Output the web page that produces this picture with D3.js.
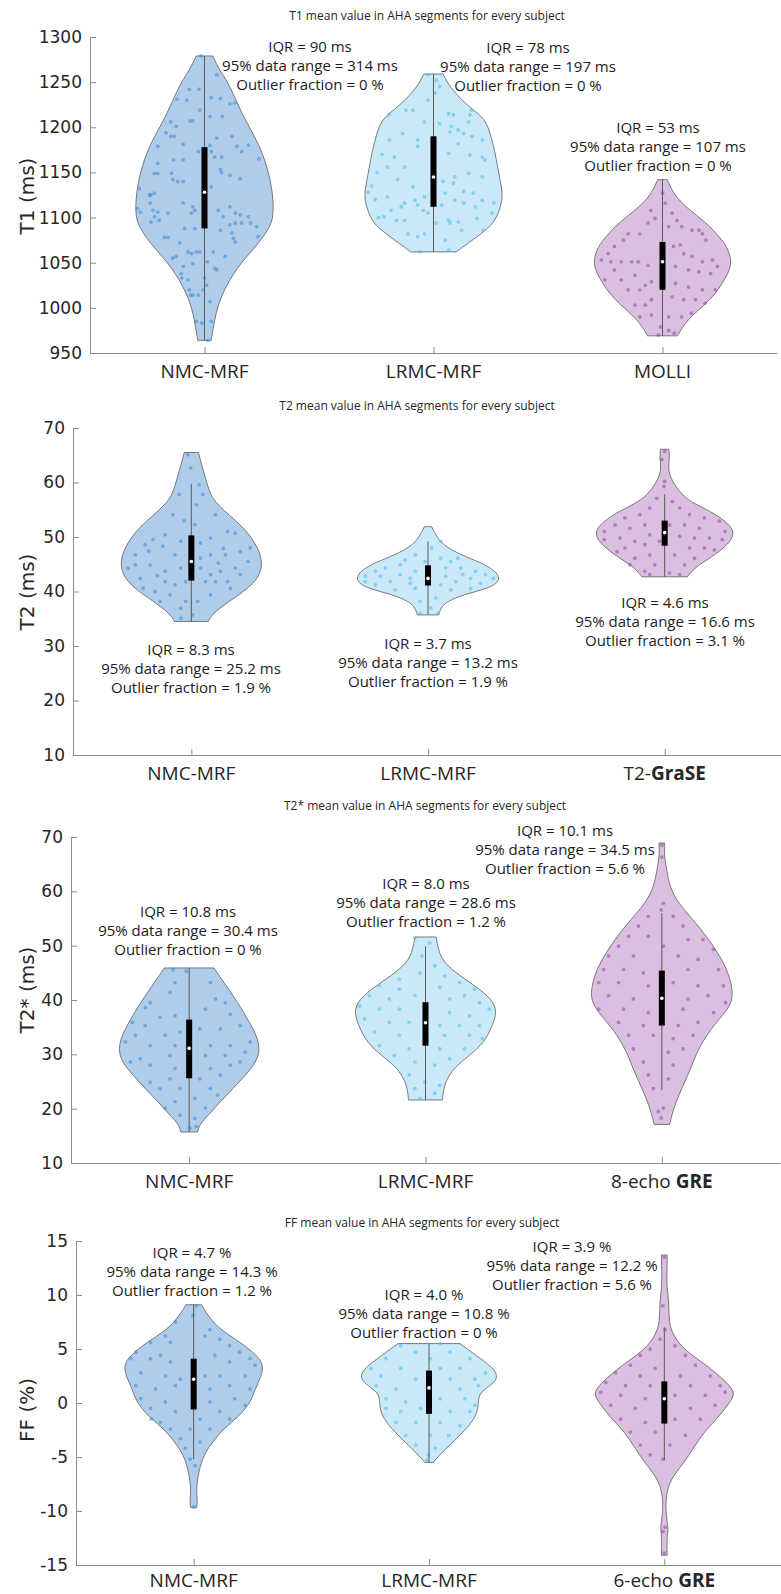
<!DOCTYPE html>
<html>
<head>
<meta charset="utf-8">
<script src="https://cdn.jsdelivr.net/npm/d3@7"></script>
<style>
html, body { margin: 0; padding: 0; background: #fff; }
svg { display: block; }
</style>
</head>
<body>
<script>
// ---------------------------------------------------------------
// T1 (ms)
// ---------------------------------------------------------------
const t1Title = "T1 mean value in AHA segments for every subject";
const t1Categories = [["NMC-MRF", ""], ["LRMC-MRF", ""], ["MOLLI", ""]];
const t1Ticks = [950, 1000, 1050, 1100, 1150, 1200, 1250, 1300];
// [whisker low, q1, median, q3, whisker high]
const t1Box = [[964, 1088, 1128, 1178, 1279], [1062, 1112, 1145, 1190, 1259], [969, 1020, 1051, 1073, 1142]];
const t1Range95 = [314, 197, 107];
const t1Outlier = [0, 0, 0];
// kernel density profile: [value, relative density]
const t1Density = [
  [[1279,0.12],[1263,0.22],[1250,0.34],[1230,0.46],[1208,0.59],[1186,0.76],[1164,0.88],[1142,0.96],[1120,1.0],[1108,1.0],[1097,0.99],[1086,0.92],[1075,0.82],[1064,0.70],[1053,0.57],[1042,0.46],[1031,0.37],[1020,0.29],[1009,0.23],[998,0.18],[987,0.15],[975,0.12],[964,0.10]],
  [[1259,0.14],[1247,0.22],[1236,0.34],[1223,0.51],[1212,0.71],[1200,0.80],[1186,0.85],[1171,0.90],[1149,0.95],[1130,1.0],[1120,1.0],[1108,0.96],[1094,0.88],[1083,0.71],[1072,0.51],[1062,0.33]],
  [[1142,0.07],[1130,0.14],[1120,0.23],[1108,0.40],[1097,0.59],[1086,0.74],[1075,0.87],[1064,0.96],[1053,1.0],[1042,0.98],[1031,0.90],[1020,0.81],[1009,0.69],[998,0.53],[987,0.37],[975,0.26],[969,0.22]]
];
// segment values: [jitter (fraction of violin half-width), value]
const t1Points = [
  [[-0.05,1279],[0.18,1258],[-0.22,1242],[-0.08,1242],[-0.40,1231],[-0.26,1230],[0.23,1232],[0.10,1233],[0.37,1226],[0.44,1227],[-0.07,1219],[0.08,1212],[-0.21,1207],[-0.17,1207],[0.26,1212],[-0.49,1206],[-0.41,1201],[-0.56,1194],[-0.44,1190],[-0.49,1190],[0.18,1188],[0.40,1190],[0.08,1180],[0.47,1179],[0.64,1180],[-0.31,1181],[0.54,1173],[-0.68,1179],[-0.09,1173],[0.10,1173],[-0.68,1160],[-0.45,1164],[-0.31,1164],[0.25,1167],[0.15,1167],[0.79,1165],[-0.73,1149],[-0.68,1149],[0.23,1153],[0.25,1150],[-0.48,1149],[-0.46,1142],[-0.39,1140],[-0.31,1140],[0.37,1147],[0.52,1143],[-0.95,1132],[-0.78,1125],[-0.73,1127],[0.10,1134],
   [-0.80,1125],[-0.98,1110],[-0.93,1106],[-0.79,1116],[-0.75,1108],[-0.68,1106],[-0.73,1101],[-0.78,1095],[-0.66,1097],[-0.53,1105],[-0.31,1116],[-0.17,1112],[-0.14,1108],[-0.19,1105],[0.20,1108],[0.27,1101],[0.37,1112],[0.45,1105],[0.52,1103],[0.64,1101],[0.67,1094],[0.76,1090],[0.78,1079],[0.54,1094],[0.45,1094],[0.37,1092],[0.40,1083],[0.42,1077],[0.45,1073],[0.23,1086],[-0.29,1088],[-0.14,1088],[-0.36,1072],[-0.58,1078],[-0.53,1078],[-0.46,1055],[-0.41,1057],[-0.24,1062],[-0.12,1062],[-0.07,1062],[0.13,1062],[0.18,1042],[0.15,1044],[0.04,1051],[-0.17,1049],[-0.31,1046],[-0.34,1038],[-0.33,1033],[-0.24,1031],[0.0,1033],[0.03,1025],[-0.20,1014],[-0.17,1014],[-0.09,1014],[-0.02,1020],[-0.22,1020],[0.08,1007],[-0.12,985],[-0.04,983],[0.10,985],[0.05,964],[0.30,1057],[-0.19,1060]],
  [[-0.08,1258],[0.04,1252],[0.09,1245],[0.02,1238],[-0.08,1230],[-0.30,1219],[0.22,1215],[0.29,1214],[0.53,1214],[0.55,1219],[-0.40,1219],[-0.65,1214],[-0.13,1206],[0.09,1204],[0.51,1206],[0.26,1201],[0.36,1197],[0.24,1195],[0.44,1193],[0.56,1190],[0.71,1186],[-0.45,1193],[-0.64,1186],[-0.23,1186],[0.36,1182],[0.22,1171],[0.53,1169],[0.71,1167],[0.75,1164],[-0.57,1167],[-0.42,1156],[-0.23,1179],[0.51,1149],[0.31,1145],[0.71,1145],[0.14,1140],[0.29,1138],[0.44,1129],[0.17,1127],[-0.52,1142],[-0.67,1156],[-0.30,1134],[-0.13,1123],
   [-0.42,1116],[-0.47,1112],[-0.23,1114],[-0.27,1119],[-0.15,1108],[0.12,1114],[0.31,1119],[0.44,1116],[0.61,1112],[0.71,1119],[0.88,1116],[0.22,1097],[0.24,1094],[0.36,1095],[0.04,1094],[-0.08,1105],[-0.54,1097],[-0.42,1097],[-0.37,1082],[-0.13,1082],[-0.23,1079],[0.63,1099],[0.72,1086],[0.41,1086],[0.17,1075],[0.22,1064],[-0.20,1062],[-0.62,1108],[-0.72,1101],[0.85,1105],[-0.67,1123],[0.58,1127],
   [-0.85,1120],[-0.9,1135],[-0.8,1100],[-0.82,1150],[-0.75,1170],[-0.95,1128]],
  [[-0.17,1108],[-0.11,1099],[-0.21,1094],[-0.33,1082],[0.14,1105],[0.21,1097],[0.09,1090],[0.28,1090],[0.43,1086],[0.53,1086],[0.58,1082],[0.63,1075],[-0.50,1082],[-0.57,1075],[-0.70,1068],[-0.79,1060],[-0.89,1053],[-0.75,1051],[-0.60,1051],[-0.45,1051],[-0.35,1051],[-0.21,1047],[0.16,1068],[0.26,1070],[0.31,1060],[0.43,1057],[0.58,1051],[0.73,1053],[0.80,1046],[0.19,1046],[0.38,1042],[0.53,1040],[0.70,1038],[-0.70,1042],[-0.84,1031],[-0.60,1031],[-0.40,1036],[-0.25,1025],[-0.16,1029],[-0.50,1020],[-0.33,1020],[0.19,1027],[0.38,1023],[0.58,1020],[0.77,1020],[0.14,1012],[0.31,1009],[0.48,1009],[0.62,1005],[-0.40,1003],[-0.25,1003],[-0.16,1009],[-0.33,990],[-0.16,992],[0.09,990],[0.28,990],[0.42,994],[-0.03,979],[0.09,975],[0.17,972],[-0.06,970],[0.0,1127],[0.04,1116]]
];

// ---------------------------------------------------------------
// T2 (ms)
// ---------------------------------------------------------------
const t2Title = "T2 mean value in AHA segments for every subject";
const t2Categories = [["NMC-MRF", ""], ["LRMC-MRF", ""], ["T2-", "GraSE"]];
const t2Ticks = [10, 20, 30, 40, 50, 60, 70];
const t2Box = [[34.5, 42.0, 45.5, 50.3, 59.7], [35.7, 41.1, 42.4, 44.8, 49.2], [42.7, 48.4, 50.8, 53.0, 57.8]];
const t2Range95 = [25.2, 13.2, 16.6];
const t2Outlier = [1.9, 1.9, 3.1];
const t2Density = [
  [[65.5,0.10],[63.5,0.14],[60.8,0.20],[58.5,0.25],[56.5,0.32],[53.5,0.58],[51.0,0.79],[48.0,0.94],[45.5,1.0],[43.0,0.97],[40.6,0.81],[38.2,0.53],[35.7,0.28],[34.5,0.24]],
  [[51.9,0.05],[50.4,0.11],[48.6,0.20],[46.7,0.46],[44.9,0.83],[43.1,1.0],[41.8,1.0],[40.6,0.86],[39.4,0.49],[38.2,0.27],[37.0,0.18],[35.7,0.15]],
  [[66.1,0.06],[64.5,0.07],[62.7,0.05],[60.8,0.08],[58.4,0.20],[56.5,0.35],[54.7,0.65],[52.9,0.86],[51.0,0.99],[49.2,0.93],[47.3,0.77],[45.5,0.56],[44.3,0.42],[42.7,0.32]]
];
const t2Points = [
  [[0.11,59.6],[0.16,57.8],[0.07,55.9],[-0.17,57.8],[-0.26,54.1],[0.34,54.1],[0.51,51.0],[0.62,50.7],[-0.37,50.4],[-0.54,49.5],[-0.65,48.6],[-0.79,46.7],[0.27,49.8],[0.13,48.9],[-0.15,49.2],[-0.40,48.3],[-0.23,46.7],[0.13,46.1],[0.27,46.7],[0.48,46.7],[0.69,47.3],[0.83,48.0],[0.80,45.5],[0.62,44.3],[0.41,43.7],[0.27,43.1],[0.13,44.3],[-0.15,44.3],[-0.37,43.7],[-0.58,44.9],[-0.79,44.9],[-0.89,44.3],[-0.72,42.4],[-0.37,41.8],[-0.23,41.2],[-0.08,41.8],[0.20,41.8],[0.34,41.8],[0.51,41.8],[0.69,43.1],[0.55,40.6],[0.27,39.4],[0.09,38.2],[-0.08,38.2],[-0.30,39.4],[-0.51,40.0],[-0.68,40.6],[-0.15,36.9],[0.02,35.7],[-0.15,35.1],[-0.44,38.2],[-0.05,65.1],[-0.01,62.7],[0.45,47.9],[-0.60,47.4],[0.05,52.3],[-0.10,53.0],[0.38,45.2],[-0.48,42.9]],
  [[0.18,49.2],[0.05,48.0],[-0.18,46.7],[0.18,46.1],[0.32,45.5],[-0.39,44.9],[-0.60,44.3],[-0.74,43.7],[-0.88,42.8],[-0.39,43.1],[-0.18,43.7],[0.25,44.3],[0.46,44.3],[0.67,43.7],[0.81,43.1],[0.92,42.4],[0.60,42.4],[0.39,41.8],[0.18,41.2],[-0.25,41.5],[-0.53,41.8],[-0.74,41.2],[-0.88,41.8],[-0.46,40.3],[-0.18,40.6],[0.32,40.3],[0.60,40.6],[0.74,41.5],[0.11,38.8],[-0.11,38.2],[0.04,37.0],[-0.11,36.0],[0.14,36.0],[-0.25,42.4],[-0.67,42.8],[0.25,42.8],[-0.04,45.5],[0.42,46.1],[-0.32,45.8],[0.49,43.1]],
  [[0.0,65.7],[-0.04,64.2],[0.0,60.2],[-0.01,59.3],[-0.11,57.1],[0.11,56.5],[-0.21,55.3],[0.21,55.3],[-0.35,54.1],[0.35,54.1],[-0.56,53.5],[0.56,53.5],[-0.70,52.2],[0.77,52.9],[-0.85,51.0],[0.85,51.0],[-0.49,51.6],[-0.28,52.2],[0.28,52.2],[0.49,51.6],[-0.21,50.4],[0.21,50.1],[0.42,49.8],[0.63,49.8],[-0.63,49.8],[-0.42,49.2],[-0.85,49.5],[0.81,49.5],[-0.28,48.6],[-0.56,48.0],[0.35,48.0],[0.56,48.0],[-0.67,47.3],[0.70,47.6],[-0.21,46.7],[0.14,46.7],[-0.42,46.1],[0.42,46.1],[-0.49,44.9],[-0.14,44.9],[0.28,44.9],[-0.28,43.7],[0.07,43.4],[0.21,43.1],[-0.21,43.1],[-0.07,49.2],[0.07,52.2]]
];

// ---------------------------------------------------------------
// T2* (ms)
// ---------------------------------------------------------------
const t2sTitle = "T2* mean value in AHA segments for every subject";
const t2sCategories = [["NMC-MRF", ""], ["LRMC-MRF", ""], ["8-echo ", "GRE"]];
const t2sTicks = [10, 20, 30, 40, 50, 60, 70];
const t2sBox = [[15.7, 25.6, 31.1, 36.4, 45.9], [21.6, 31.6, 35.8, 39.6, 49.9], [23.4, 35.3, 40.3, 45.4, 56.0]];
const t2sRange95 = [30.4, 28.6, 34.5];
const t2sOutlier = [0, 1.2, 5.6];
const t2sDensity = [
  [[45.9,0.35],[43.2,0.49],[39.5,0.69],[35.9,0.85],[33.5,0.95],[31.0,1.0],[28.6,0.95],[26.1,0.79],[23.7,0.62],[21.3,0.44],[18.8,0.27],[17.0,0.14],[15.7,0.12]],
  [[51.6,0.15],[49.3,0.18],[46.9,0.25],[44.4,0.49],[42.0,0.77],[39.5,0.98],[37.1,1.0],[34.7,0.92],[32.2,0.83],[29.8,0.62],[27.4,0.39],[24.9,0.28],[23.1,0.25],[21.6,0.24]],
  [[68.9,0.04],[66.3,0.035],[63.9,0.07],[60.9,0.11],[57.8,0.23],[54.8,0.44],[51.7,0.63],[48.7,0.79],[45.6,0.92],[42.6,0.99],[40.2,1.0],[38.3,0.93],[35.9,0.77],[33.5,0.63],[30.4,0.49],[27.4,0.41],[24.3,0.30],[21.3,0.20],[18.8,0.14],[17.1,0.11]]
];
const t2sPoints = [
  [[-0.23,45.6],[-0.04,45.3],[0.30,43.2],[-0.20,43.2],[-0.27,41.4],[-0.55,39.5],[-0.62,38.6],[0.37,40.2],[0.51,39.5],[0.23,38.3],[0.58,37.4],[-0.20,37.1],[-0.41,36.8],[-0.80,35.9],[-0.62,35.3],[0.72,35.3],[0.44,34.7],[0.15,34.7],[-0.13,34.1],[-0.34,33.5],[-0.76,33.5],[-0.90,32.3],[-0.55,31.6],[-0.20,31.6],[0.30,31.6],[0.58,31.6],[0.86,32.3],[0.79,30.4],[0.51,29.8],[0.23,29.8],[-0.27,29.8],[-0.69,29.2],[-0.83,28.6],[-0.55,28.0],[-0.20,27.4],[0.30,27.4],[0.58,28.0],[0.72,28.6],[0.44,26.2],[0.15,25.5],[-0.27,25.5],[-0.55,24.9],[-0.41,23.7],[-0.13,23.7],[0.30,23.7],[0.40,22.5],[0.08,21.9],[-0.20,21.3],[-0.34,20.1],[0.23,20.1],[-0.13,18.8],[0.08,18.2],[0.01,16.4],[0.10,16.7]],
  [[-0.15,51.4],[0.06,50.5],[-0.05,48.1],[0.13,46.3],[-0.08,45.0],[0.27,44.4],[-0.37,43.8],[0.48,43.2],[-0.65,42.6],[-0.37,42.0],[0.20,42.3],[0.69,42.0],[-0.79,40.8],[-0.51,40.2],[-0.15,40.8],[0.34,40.2],[0.55,40.8],[0.76,39.5],[0.90,38.3],[-0.93,38.9],[-0.65,38.3],[-0.37,38.3],[0.34,37.7],[0.62,37.1],[-0.86,36.5],[-0.51,35.9],[-0.23,35.9],[0.20,35.3],[0.48,35.3],[0.76,35.3],[-0.72,34.1],[-0.37,33.5],[0.27,33.5],[0.62,33.5],[0.80,32.9],[-0.65,31.6],[-0.23,31.0],[0.20,31.0],[0.55,31.0],[-0.44,29.8],[0.34,29.2],[-0.15,28.6],[0.13,28.0],[-0.23,26.2],[-0.01,24.9],[0.20,24.3],[-0.15,23.7],[0.13,22.8],[-0.08,21.9]],
  [[0.0,68.5],[0.0,66.3],[0.02,57.8],[-0.01,56.6],[-0.19,55.4],[0.16,55.4],[-0.33,53.6],[0.30,53.6],[-0.47,51.7],[-0.19,51.7],[0.37,51.1],[0.58,51.1],[-0.61,49.9],[0.02,49.9],[0.73,49.3],[-0.75,48.1],[-0.40,48.1],[0.23,48.1],[0.51,47.5],[-0.82,45.6],[-0.54,45.6],[-0.26,45.0],[0.37,45.6],[0.80,45.6],[-0.89,43.2],[-0.61,43.2],[-0.19,42.6],[0.16,43.2],[0.51,42.6],[0.87,42.6],[-0.75,40.8],[-0.40,40.2],[0.37,40.2],[0.65,40.8],[0.90,39.5],[-0.89,38.3],[-0.54,38.3],[-0.19,37.7],[0.30,38.3],[0.73,37.7],[-0.61,35.9],[-0.26,35.3],[0.23,35.3],[0.51,35.9],[-0.47,33.5],[-0.12,33.5],[0.16,32.9],[0.44,33.5],[-0.40,31.0],[0.09,30.4],[0.30,31.0],[-0.26,28.6],[0.16,28.0],[-0.19,26.2],[0.09,25.5],[-0.12,23.7],[0.02,20.1],[-0.05,19.5],[-0.01,18.3]]
];

// ---------------------------------------------------------------
// FF (%)
// ---------------------------------------------------------------
const ffTitle = "FF mean value in AHA segments for every subject";
const ffCategories = [["NMC-MRF", ""], ["LRMC-MRF", ""], ["6-echo ", "GRE"]];
const ffTicks = [-15, -10, -5, 0, 5, 10, 15];
const ffBox = [[-5.2, -0.6, 2.2, 4.1, 9.1], [-5.5, -1.0, 1.4, 3.0, 5.5], [-5.3, -1.9, 0.4, 2.0, 7.0]];
const ffRange95 = [14.3, 10.8, 12.2];
const ffOutlier = [1.2, 0, 5.6];
const ffDensity = [
  [[9.1,0.11],[8.1,0.20],[6.8,0.37],[5.6,0.67],[4.4,0.90],[3.5,0.99],[2.5,0.96],[1.3,0.87],[0.1,0.81],[-1.2,0.65],[-2.4,0.42],[-3.6,0.27],[-4.8,0.14],[-6.4,0.07],[-7.9,0.035],[-9.2,0.056],[-9.7,0.04]],
  [[5.5,0.44],[4.4,0.67],[3.2,0.92],[2.5,0.97],[1.9,0.93],[1.3,0.79],[0.7,0.70],[-0.2,0.70],[-1.2,0.67],[-2.4,0.53],[-3.6,0.34],[-4.8,0.15],[-5.5,0.06]],
  [[13.7,0.04],[12.4,0.04],[10.8,0.03],[9.3,0.07],[7.5,0.06],[6.2,0.13],[5.0,0.27],[3.8,0.53],[2.5,0.79],[1.3,0.97],[0.7,0.99],[-0.2,0.90],[-1.5,0.74],[-2.7,0.56],[-4.2,0.41],[-5.5,0.28],[-6.7,0.13],[-7.9,0.04],[-9.5,0.015],[-11.0,0.04],[-11.6,0.056],[-12.5,0.035],[-14.1,0.04]]
];
const ffPoints = [
  [[0.04,9.0],[-0.01,8.1],[-0.26,7.5],[0.23,6.8],[-0.40,6.2],[0.16,6.2],[0.37,5.9],[-0.61,5.6],[-0.33,5.6],[0.51,5.3],[-0.82,4.7],[-0.47,4.4],[0.65,4.7],[0.80,4.1],[-0.89,4.1],[-0.61,4.1],[-0.33,3.8],[0.30,4.4],[0.51,3.8],[0.87,3.5],[-0.75,2.8],[-0.40,2.5],[-0.19,2.2],[0.16,2.5],[0.37,2.5],[0.73,2.5],[-0.82,1.6],[-0.54,1.3],[-0.26,1.6],[0.23,1.3],[0.51,1.6],[0.80,1.3],[-0.75,0.4],[-0.40,0.1],[0.23,0.1],[0.58,0.4],[0.73,-0.2],[-0.61,-0.5],[-0.26,-0.8],[0.37,-0.8],[-0.60,-1.5],[-0.47,-1.8],[0.09,-1.5],[0.51,-1.5],[-0.33,-2.4],[-0.05,-2.4],[0.23,-2.4],[-0.19,-3.3],[0.09,-3.6],[-0.12,-4.2],[-0.05,-5.2],[0.02,-5.8],[0.0,-9.6]],
  [[-0.40,5.3],[0.16,5.5],[-0.19,4.7],[0.30,4.7],[-0.61,4.1],[0.02,4.1],[0.58,4.1],[-0.82,3.2],[-0.40,3.2],[0.16,3.2],[0.44,3.2],[0.80,2.8],[-0.68,2.5],[-0.19,2.2],[0.30,2.2],[0.65,2.2],[-0.75,1.6],[-0.47,1.3],[0.44,1.3],[0.70,1.6],[-0.61,0.4],[-0.33,0.1],[0.16,0.4],[0.51,0.4],[0.65,-0.2],[-0.61,-0.5],[-0.40,-0.8],[-0.12,-0.5],[0.30,-0.8],[0.58,-0.8],[-0.47,-1.8],[-0.19,-1.8],[0.16,-1.8],[0.44,-2.1],[-0.33,-3.0],[0.02,-3.0],[0.28,-3.0],[-0.19,-3.9],[0.09,-4.2],[-0.01,-4.8],[-0.03,-5.3]],
  [[0.0,13.5],[-0.02,9.0],[0.01,6.8],[-0.06,5.9],[-0.20,5.0],[0.15,5.3],[-0.34,4.4],[0.30,4.4],[-0.48,3.5],[-0.13,3.2],[0.44,3.5],[-0.69,2.8],[-0.34,2.5],[0.23,2.5],[0.65,2.5],[-0.83,1.9],[-0.55,1.6],[-0.20,1.6],[0.37,1.6],[0.79,1.6],[-0.90,1.0],[-0.62,0.7],[-0.27,0.4],[0.15,0.7],[0.58,0.7],[0.86,1.0],[-0.76,-0.2],[-0.41,-0.5],[0.37,-0.5],[0.72,-0.2],[-0.62,-1.5],[-0.27,-1.8],[0.15,-1.5],[0.51,-1.5],[-0.48,-2.7],[-0.13,-2.7],[0.30,-3.0],[-0.34,-3.9],[0.08,-3.9],[-0.20,-4.8],[-0.02,-5.2],[0.01,-11.5],[-0.02,-11.9],[0.0,-13.9]]
];

// ---------------------------------------------------------------
// Layout
// ---------------------------------------------------------------
const W = 781, H = 1594;
const palette = [
  { fill: "#afcdea", dot: "#3a89cc" },
  { fill: "#cae9f8", dot: "#4cb9ea" },
  { fill: "#dbbfe0", dot: "#9145a2" }
];

const panels = [
  { title: t1Title, titlePos: [427, 15], cats: t1Categories, ticks: t1Ticks, box: t1Box, range95: t1Range95, outlier: t1Outlier,
    density: t1Density, points: t1Points, unit: "ms", yLabel: "T1 (ms)", fmt: d3.format(".0f"),
    left: 90, right: 777, top: 37, bottom: 353, domain: [950, 1300], labelY: 196, catGap: 18,
    statPos: [[310, 47], [528, 48], [658, 128]] },
  { title: t2Title, titlePos: [417, 405], cats: t2Categories, ticks: t2Ticks, box: t2Box, range95: t2Range95, outlier: t2Outlier,
    density: t2Density, points: t2Points, unit: "ms", yLabel: "T2 (ms)", fmt: d3.format(".1f"),
    left: 73, right: 783, top: 428, bottom: 755, domain: [10, 70], labelY: 592, catGap: 18,
    statPos: [[191, 650], [428, 644], [665, 603]] },
  { title: t2sTitle, titlePos: [425, 805], cats: t2sCategories, ticks: t2sTicks, box: t2sBox, range95: t2sRange95, outlier: t2sOutlier,
    density: t2sDensity, points: t2sPoints, unit: "ms", yLabel: "T2* (ms)", fmt: d3.format(".1f"),
    left: 71, right: 780, top: 837, bottom: 1163, domain: [10, 70], labelY: 990, catGap: 18,
    statPos: [[188, 912], [426, 884], [565, 831]] },
  { title: ffTitle, titlePos: [422, 1222], cats: ffCategories, ticks: ffTicks, box: ffBox, range95: ffRange95, outlier: ffOutlier,
    density: ffDensity, points: ffPoints, unit: "%", yLabel: "FF (%)", fmt: d3.format(".1f"),
    left: 76, right: 782, top: 1241, bottom: 1565, domain: [-15, 15], labelY: 1410, catGap: 15,
    statPos: [[192, 1253], [424, 1295], [572, 1247]] }
];

const svg = d3.select("body").append("svg")
  .attr("width", W).attr("height", H)
  .attr("viewBox", `0 0 ${W} ${H}`);

const AXIS = "#8c8c8c";
const TEXT = "#262626";

function drawPanel(p) {
  const g = svg.append("g");
  const x = d3.scalePoint().domain(d3.range(p.cats.length)).range([p.left, p.right]).padding(0.5);
  const y = d3.scaleLinear().domain(p.domain).range([p.bottom, p.top]);
  const hw = 0.3 * x.step();

  // title
  g.append("text")
    .attr("x", p.titlePos[0]).attr("y", p.titlePos[1])
    .attr("text-anchor", "middle").attr("dominant-baseline", "central")
    .attr("font-family", "Open Sans").attr("font-size", 12).attr("fill", TEXT)
    .text(p.title);

  // violins, scatter, box
  p.density.forEach((dens, i) => {
    const cx = x(i);
    const area = d3.area()
      .curve(d3.curveBasis)
      .y(d => y(d[0]))
      .x0(d => cx - d[1] * hw)
      .x1(d => cx + d[1] * hw);
    g.append("path")
      .attr("d", area(dens))
      .attr("fill", palette[i].fill)
      .attr("stroke", "#5c5c5c").attr("stroke-width", 0.8);

    g.append("g").selectAll("circle")
      .data(p.points[i]).join("circle")
      .attr("cx", d => cx + d[0] * hw)
      .attr("cy", d => y(d[1]))
      .attr("r", 1.9)
      .attr("fill", palette[i].dot)
      .attr("fill-opacity", 0.55);

    const b = p.box[i];
    g.append("line")
      .attr("x1", cx).attr("x2", cx)
      .attr("y1", y(b[0])).attr("y2", y(b[4]))
      .attr("stroke", "#5a5a5a").attr("stroke-width", 1);
    g.append("rect")
      .attr("x", cx - 3).attr("width", 6)
      .attr("y", y(b[3])).attr("height", y(b[1]) - y(b[3]))
      .attr("fill", "#000");
    g.append("circle")
      .attr("cx", cx).attr("cy", y(b[2])).attr("r", 1.8)
      .attr("fill", "#fff");

    // statistics annotation
    const lines = [
      `IQR = ${p.fmt(b[3] - b[1])} ${p.unit}`,
      `95% data range = ${p.range95[i]} ${p.unit}`,
      `Outlier fraction = ${p.outlier[i]} %`
    ];
    const t = g.append("text")
      .attr("text-anchor", "middle")
      .attr("font-family", "Open Sans").attr("font-size", 15).attr("fill", "#1c1c1c");
    lines.forEach((s, k) => {
      t.append("tspan")
        .attr("x", p.statPos[i][0])
        .attr("y", p.statPos[i][1] + k * 19)
        .attr("dy", "0.35em")
        .text(s);
    });
  });

  // y axis
  const ya = g.append("g")
    .attr("transform", `translate(${p.left},0)`)
    .call(d3.axisLeft(y).tickValues(p.ticks).tickSizeInner(-6).tickSizeOuter(0).tickPadding(8).tickFormat(d => String(d)))
    .attr("font-family", "DejaVu Sans").attr("font-size", 17).attr("color", TEXT);
  ya.select(".domain").attr("stroke", AXIS);
  ya.selectAll(".tick line").attr("stroke", AXIS);

  // x axis
  const xa = g.append("g")
    .attr("transform", `translate(0,${p.bottom})`)
    .call(d3.axisBottom(x).tickSizeInner(-6).tickSizeOuter(0).tickFormat(""))
    .attr("color", AXIS);
  xa.select(".domain").attr("stroke", AXIS);

  p.cats.forEach((c, i) => {
    const t = g.append("text")
      .attr("x", x(i)).attr("y", p.bottom + p.catGap)
      .attr("text-anchor", "middle").attr("dominant-baseline", "central")
      .attr("font-family", "Open Sans").attr("font-size", 19).attr("fill", TEXT);
    t.append("tspan").text(c[0]);
    if (c[1]) t.append("tspan").attr("font-weight", "bold").text(c[1]);
  });

  // y axis title
  g.append("text")
    .attr("transform", `translate(27,${p.labelY}) rotate(-90)`)
    .attr("text-anchor", "middle").attr("dominant-baseline", "central")
    .attr("font-family", "DejaVu Sans").attr("font-size", 20).attr("fill", TEXT)
    .text(p.yLabel);
}

panels.forEach(drawPanel);
</script>
</body>
</html>
